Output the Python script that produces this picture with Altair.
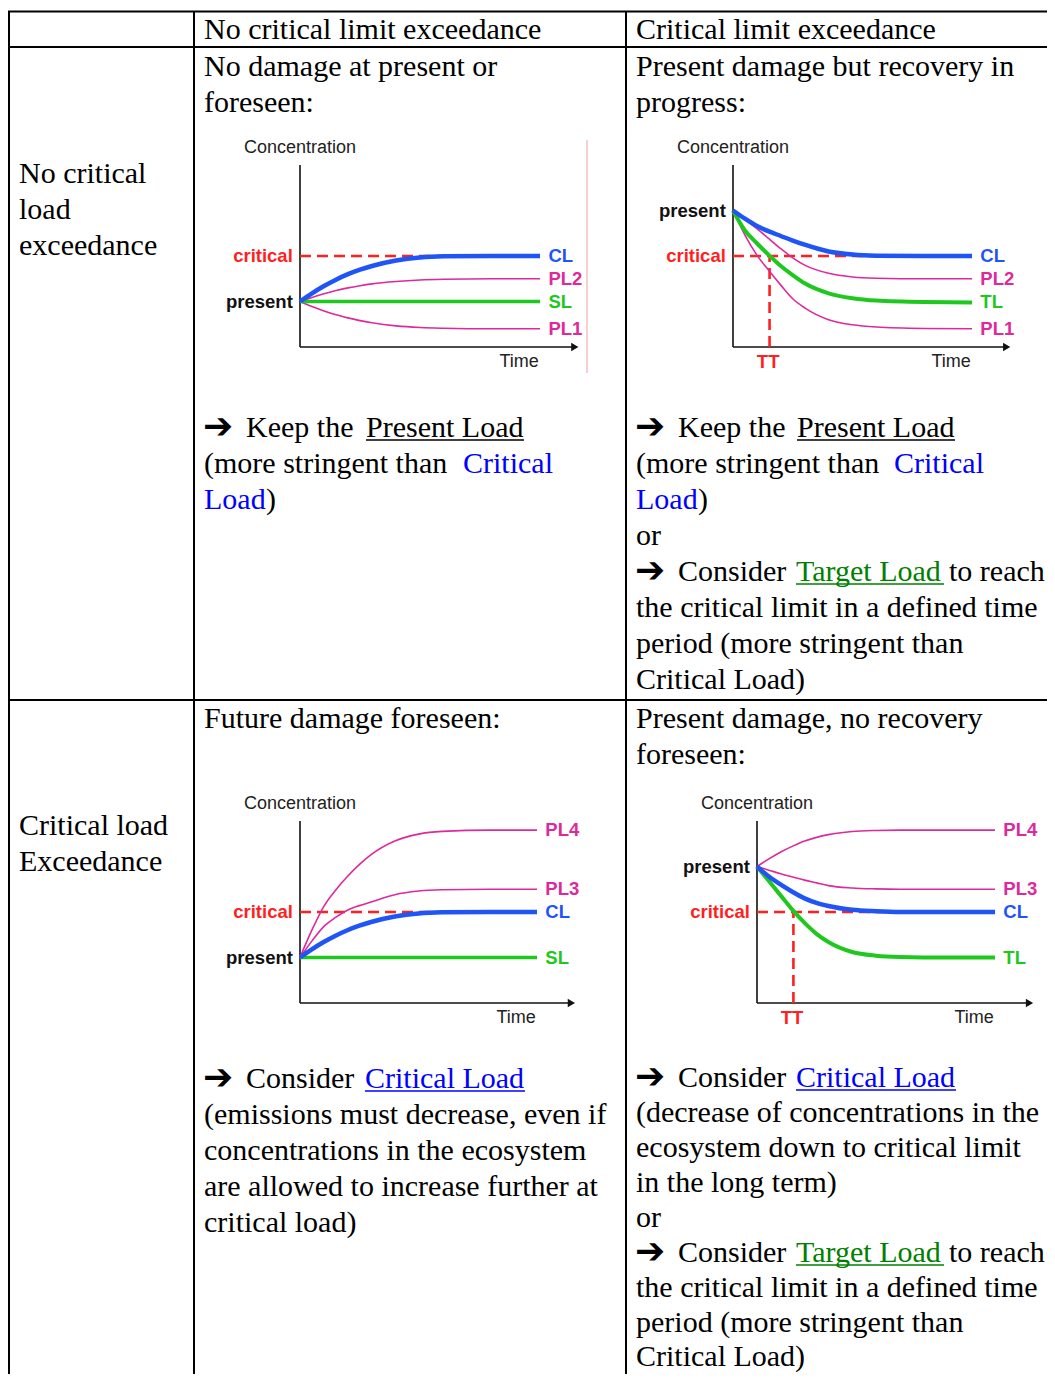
import altair as alt
import pandas as pd

# ---------------- page / canvas ----------------
# window is 1055 x 1382 and the page has an 8px margin on every side
W, H = 1039, 1366
OX, OY = 8, 8

# ---------------- mini-chart data (time 0..10, concentration 0..10) ----------------
T = [0, 0.5, 1, 1.5, 2, 2.5, 3, 4, 5, 6, 8, 10]

# Panel A: no critical limit exceedance / no critical load exceedance
A_CL = [2.5, 2.95, 3.35, 3.7, 4.0, 4.25, 4.45, 4.75, 4.92, 4.98, 5.0, 5.0]
A_PL2 = [2.5, 2.72, 2.92, 3.1, 3.25, 3.37, 3.47, 3.6, 3.68, 3.72, 3.75, 3.75]
A_SL = [2.5, 2.5, 2.5, 2.5, 2.5, 2.5, 2.5, 2.5, 2.5, 2.5, 2.5, 2.5]
A_PL1 = [2.5, 2.22, 1.98, 1.77, 1.6, 1.45, 1.33, 1.16, 1.07, 1.03, 1.0, 1.0]

# Panel B: critical limit exceedance / no critical load exceedance
B_CL = [7.5, 7.05, 6.65, 6.35, 6.1, 5.85, 5.62, 5.25, 5.08, 5.02, 5.0, 5.0]
B_PL2 = [7.5, 7.0, 6.5, 5.95, 5.4, 4.9, 4.5, 4.05, 3.85, 3.78, 3.75, 3.75]
B_TL = [7.5, 6.4, 5.7, 5.05, 4.45, 3.95, 3.5, 2.95, 2.68, 2.55, 2.47, 2.45]
B_PL1 = [7.5, 6.15, 5.05, 4.2, 3.4, 2.65, 2.15, 1.5, 1.22, 1.1, 1.02, 1.0]

# Panel C: no critical limit exceedance / critical load exceedance
C_PL4 = [2.5, 4.0, 5.3, 6.2, 6.95, 7.6, 8.15, 8.9, 9.28, 9.43, 9.5, 9.5]
C_PL3 = [2.5, 3.4, 4.2, 4.7, 5.1, 5.35, 5.55, 5.95, 6.15, 6.22, 6.25, 6.25]
C_CL = [2.5, 2.95, 3.35, 3.7, 4.0, 4.25, 4.45, 4.75, 4.92, 4.98, 5.0, 5.0]
C_SL = [2.5, 2.5, 2.5, 2.5, 2.5, 2.5, 2.5, 2.5, 2.5, 2.5, 2.5, 2.5]

# Panel D: critical limit exceedance / critical load exceedance
D_PL4 = [7.5, 7.92, 8.3, 8.62, 8.9, 9.1, 9.25, 9.42, 9.48, 9.5, 9.5, 9.5]
D_PL3 = [7.5, 7.3, 7.1, 6.92, 6.75, 6.6, 6.45, 6.32, 6.27, 6.25, 6.25, 6.25]
D_CL = [7.5, 6.95, 6.5, 6.1, 5.75, 5.5, 5.33, 5.12, 5.04, 5.0, 5.0, 5.0]
D_TL = [7.5, 6.7, 5.9, 5.1, 4.4, 3.8, 3.35, 2.8, 2.6, 2.53, 2.5, 2.5]

PRESENT = {"A": 2.5, "B": 7.5, "C": 2.5, "D": 7.5}
CRITICAL = 5.0
TT = {"B": 1.53, "D": 1.53}

# ---------------- table text ----------------
HEADERS = ["No critical limit exceedance", "Critical limit exceedance"]
ROW_HEADERS = [["No critical", "load", "exceedance"], ["Critical load", "Exceedance"]]

# ---------------- styles ----------------
BLUE = "#1f55f7"
GREEN = "#1fc81f"
MAGENTA = "#dc2a9c"
RED = "#ff1f1f"
LBLUE = "#0000ff"
LGREEN = "#008000"
INK = "#000000"
SERIF = "Liberation Serif"
SANS = "Liberation Sans"

SERIES_STYLE = {
    "CL": (BLUE, 4.5),
    "SL": (GREEN, 3.5),
    "TL": (GREEN, 4.0),
    "PL1": (MAGENTA, 1.6),
    "PL2": (MAGENTA, 1.6),
    "PL3": (MAGENTA, 1.6),
    "PL4": (MAGENTA, 1.6),
}

# panel geometry in page pixels: x at t=0, x at t=10, y at c=0, y at c=10
PANELS = {
    "A": dict(x0=300, x1=540, yb=347, yt=165,
              series=[("PL2", A_PL2), ("PL1", A_PL1), ("SL", A_SL), ("CL", A_CL)]),
    "B": dict(x0=733, x1=972, yb=347, yt=165,
              series=[("PL2", B_PL2), ("PL1", B_PL1), ("TL", B_TL), ("CL", B_CL)]),
    "C": dict(x0=300, x1=537, yb=1003, yt=821,
              series=[("PL4", C_PL4), ("PL3", C_PL3), ("SL", C_SL), ("CL", C_CL)]),
    "D": dict(x0=757, x1=995, yb=1003, yt=821,
              series=[("PL4", D_PL4), ("PL3", D_PL3), ("TL", D_TL), ("CL", D_CL)]),
}


def panel_chart(key):
    p = PANELS[key]
    xs = alt.Scale(domain=[0, 10], range=[p["x0"] - OX, p["x1"] - OX], nice=False, zero=False)
    ys = alt.Scale(domain=[0, 10], range=[p["yb"] - OY, p["yt"] - OY], nice=False, zero=False)
    X = lambda f: alt.X(f, type="quantitative", scale=xs, axis=None)
    Y = lambda f: alt.Y(f, type="quantitative", scale=ys, axis=None)
    layers = []

    # axes
    axes_df = pd.DataFrame({"t": [0], "t2": [11.45], "c": [0], "c2": [10]})
    base = alt.Chart(axes_df)
    layers.append(base.mark_rule(color="#111111", strokeWidth=1.6).encode(x=X("t"), y=Y("c"), y2="c2"))
    layers.append(base.mark_rule(color="#111111", strokeWidth=1.6).encode(x=X("t"), x2="t2", y=Y("c")))
    layers.append(base.mark_point(shape="triangle-right", filled=True, size=70, color="#111111", opacity=1)
                  .encode(x=X("t2"), y=Y("c")))

    # critical dashed line(s)
    crit_df = pd.DataFrame({"t": [0], "t2": [10], "c": [CRITICAL]})
    layers.append(alt.Chart(crit_df).mark_rule(color=RED, strokeWidth=2.6, strokeDash=[11, 6])
                  .encode(x=X("t"), x2="t2", y=Y("c")))
    if key in TT:
        tt_df = pd.DataFrame({"t": [TT[key]], "c": [0], "c2": [CRITICAL]})
        layers.append(alt.Chart(tt_df).mark_rule(color=RED, strokeWidth=2.6, strokeDash=[11, 6])
                      .encode(x=X("t"), y=Y("c"), y2="c2"))

    # curves
    ends = []
    for name, vals in p["series"]:
        color, sw = SERIES_STYLE[name]
        df = pd.DataFrame({"t": T, "c": vals})
        layers.append(alt.Chart(df).mark_line(color=color, strokeWidth=sw, interpolate="monotone")
                      .encode(x=X("t"), y=Y("c")))
        lab_color = MAGENTA if name.startswith("PL") else color
        ends.append({"t": 10.35, "c": vals[-1], "label": name, "color": lab_color})

    lab_df = pd.DataFrame(ends)
    layers.append(alt.Chart(lab_df).mark_text(align="left", baseline="middle", font=SANS,
                                              fontWeight="bold", fontSize=18.5)
                  .encode(x=X("t"), y=Y("c"), text="label:N", color=alt.Color("color:N", scale=None)))

    left_df = pd.DataFrame({"t": [-0.3, -0.3], "c": [PRESENT[key], CRITICAL],
                            "label": ["present", "critical"], "color": ["#111111", RED]})
    layers.append(alt.Chart(left_df).mark_text(align="right", baseline="middle", font=SANS,
                                               fontWeight="bold", fontSize=18.5)
                  .encode(x=X("t"), y=Y("c"), text="label:N", color=alt.Color("color:N", scale=None)))

    title_df = pd.DataFrame({"t": [0], "c": [10.93], "label": ["Concentration"]})
    layers.append(alt.Chart(title_df).mark_text(align="center", baseline="middle", font=SANS,
                                                fontSize=18, color="#222222")
                  .encode(x=X("t"), y=Y("c"), text="label:N"))
    time_df = pd.DataFrame({"t": [9.95], "c": [-0.82], "label": ["Time"]})
    layers.append(alt.Chart(time_df).mark_text(align="right", baseline="middle", font=SANS,
                                               fontSize=18, color="#222222")
                  .encode(x=X("t"), y=Y("c"), text="label:N"))
    if key in TT:
        ttl_df = pd.DataFrame({"t": [TT[key] - 0.06], "c": [-0.82], "label": ["TT"]})
        layers.append(alt.Chart(ttl_df).mark_text(align="center", baseline="middle", font=SANS,
                                                  fontWeight="bold", fontSize=18.5, color=RED)
                      .encode(x=X("t"), y=Y("c"), text="label:N"))
    return alt.layer(*layers)


# ---------------- canvas (table grid + body text) ----------------
cx = alt.Scale(domain=[OX, OX + W], range=[0, W], nice=False, zero=False)
cy = alt.Scale(domain=[OY, OY + H], range=[0, H], nice=False, zero=False)
CX = lambda f: alt.X(f, type="quantitative", scale=cx, axis=None)
CY = lambda f: alt.Y(f, type="quantitative", scale=cy, axis=None)

hlines = pd.DataFrame({"x": [OX, OX, OX], "x2": [OX + W] * 3, "y": [11.5, 47, 700]})
vlines = pd.DataFrame({"x": [9, 194, 626], "y": [11.5] * 3, "y2": [OY + H] * 3})
pink = pd.DataFrame({"x": [587], "y": [140], "y2": [373]})

# (x, baseline y, text, color)
TEXT_ROWS = [
    (19, 183, ROW_HEADERS[0][0], INK), (19, 219, ROW_HEADERS[0][1], INK),
    (19, 255, ROW_HEADERS[0][2], INK),
    (19, 835, ROW_HEADERS[1][0], INK), (19, 871, ROW_HEADERS[1][1], INK),
    (204, 39, HEADERS[0], INK), (636, 39, HEADERS[1], INK),
    # row 1, column 2
    (204, 76, "No damage at present or", INK), (204, 112, "foreseen:", INK),
    (246, 437, "Keep the", INK), (366, 437, "Present Load", INK),
    (204, 473, "(more stringent than", INK), (463, 473, "Critical", LBLUE),
    (204, 509, "Load", LBLUE), (266, 509, ")", INK),
    # row 1, column 3
    (636, 76, "Present damage but recovery in", INK), (636, 112, "progress:", INK),
    (678, 437, "Keep the", INK), (797, 437, "Present Load", INK),
    (636, 473, "(more stringent than", INK), (894, 473, "Critical", LBLUE),
    (636, 509, "Load", LBLUE), (698, 509, ")", INK),
    (636, 545, "or", INK),
    (678, 581, "Consider", INK), (796, 581, "Target Load", LGREEN), (949, 581, "to reach", INK),
    (636, 617, "the critical limit in a defined time", INK),
    (636, 653, "period (more stringent than", INK),
    (636, 689, "Critical Load)", INK),
    # row 2, column 2
    (204, 728, "Future damage foreseen:", INK),
    (246, 1088, "Consider", INK), (365, 1088, "Critical Load", LBLUE),
    (204, 1124, "(emissions must decrease, even if", INK),
    (204, 1160, "concentrations in the ecosystem", INK),
    (204, 1196, "are allowed to increase further at", INK),
    (204, 1232, "critical load)", INK),
    # row 2, column 3 (slightly tighter so the last line stays inside the page)
    (636, 728, "Present damage, no recovery", INK), (636, 764, "foreseen:", INK),
    (678, 1087, "Consider", INK), (796, 1087, "Critical Load", LBLUE),
    (636, 1122, "(decrease of concentrations in the", INK),
    (636, 1157, "ecosystem down to critical limit", INK),
    (636, 1192, "in the long term)", INK),
    (636, 1227, "or", INK),
    (678, 1262, "Consider", INK), (796, 1262, "Target Load", LGREEN), (949, 1262, "to reach", INK),
    (636, 1297, "the critical limit in a defined time", INK),
    (636, 1332, "period (more stringent than", INK),
    (636, 1366, "Critical Load)", INK),
]
text_df = pd.DataFrame(TEXT_ROWS, columns=["x", "y", "text", "color"])

ARROWS = pd.DataFrame({"x": [203, 635, 635, 203, 635, 635],
                       "y": [438, 438, 582, 1089, 1088, 1263], "text": ["➔"] * 6})

UNDERLINES = pd.DataFrame([
    (366, 524, 440, INK), (797, 955, 440, INK), (796, 944, 584, LGREEN),
    (365, 525, 1091, LBLUE), (796, 956, 1090, LBLUE), (796, 944, 1265, LGREEN),
], columns=["x", "x2", "y", "color"])

canvas = alt.layer(
    alt.Chart(hlines).mark_rule(color="#000000", strokeWidth=2).encode(x=CX("x"), x2="x2", y=CY("y")),
    alt.Chart(vlines).mark_rule(color="#000000", strokeWidth=2).encode(x=CX("x"), y=CY("y"), y2="y2"),
    alt.Chart(pink).mark_rule(color="#f2a0a0", strokeWidth=1).encode(x=CX("x"), y=CY("y"), y2="y2"),
    alt.Chart(text_df).mark_text(align="left", baseline="alphabetic", font=SERIF, fontSize=30)
    .encode(x=CX("x"), y=CY("y"), text="text:N", color=alt.Color("color:N", scale=None)),
    alt.Chart(ARROWS).mark_text(align="left", baseline="alphabetic", font="DejaVu Sans",
                                fontWeight="bold", fontSize=36, color="#000000")
    .encode(x=CX("x"), y=CY("y"), text="text:N"),
    alt.Chart(UNDERLINES).mark_rule(strokeWidth=1.6)
    .encode(x=CX("x"), x2="x2", y=CY("y"), color=alt.Color("color:N", scale=None)),
)

chart = alt.layer(
    canvas, panel_chart("A"), panel_chart("B"), panel_chart("C"), panel_chart("D")
).resolve_scale(x="independent", y="independent").properties(
    width=W, height=H, autosize=alt.AutoSizeParams(type="none"), padding=0,
    background="white"
).configure_view(stroke=None)

chart.save("out.html", embed_options={"renderer": "svg", "actions": False})
